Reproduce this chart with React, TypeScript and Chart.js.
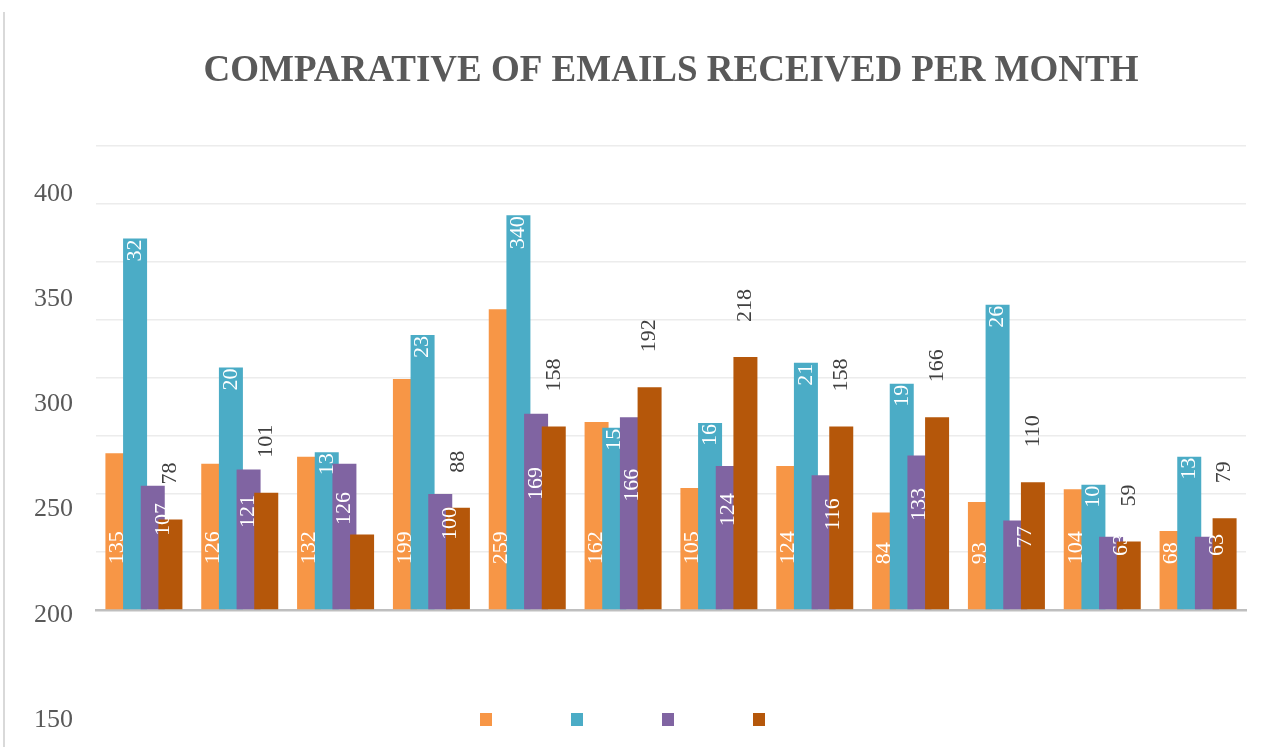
import React, { useEffect, useRef } from "react";
import { Chart, registerables } from "chart.js";

Chart.register(...registerables);

// ---------- data ----------
const months = ["Jan", "Feb", "Mar", "Apr", "May", "Jun", "Jul", "Aug", "Sep", "Oct", "Nov", "Dec"];

const orangeSeries = [135, 126, 132, 199, 259, 162, 105, 124, 84, 93, 104, 68];
const tealSeries = [320, 209, 136, 237, 340, 157, 161, 213, 195, 263, 108, 132];
const purpleSeries = [107, 121, 126, 100, 169, 166, 124, 116, 133, 77, 63, 63];
const darkOrangeSeries = [78, 101, 65, 88, 158, 192, 218, 158, 166, 110, 59, 79];

// data-label texts as they appear in the picture
const orangeLabels = orangeSeries.map(String);
const tealLabels = ["32", "20", "13", "23", "340", "15", "16", "21", "19", "26", "10", "13"];
const purpleLabels = purpleSeries.map(String);
const darkOrangeLabels = ["78", "101", "", "88", "158", "192", "218", "158", "166", "110", "59", "79"];

// y tick labels shown on the left
const yTickLabels = [150, 200, 250, 300, 350, 400];

const titleText = "COMPARATIVE OF EMAILS RECEIVED PER MONTH";

// ---------- styles ----------
const COLORS = ["#F79646", "#4BACC6", "#8064A2", "#B5570A"];
const SERIF = '"Liberation Serif", "DejaVu Serif", serif';

const labelStyles: any[] = [
  { texts: orangeLabels, color: "#ffffff", mode: "base" },
  { texts: tealLabels, color: "#ffffff", mode: "end" },
  { texts: purpleLabels, color: "#ffffff", mode: "middle" },
  { texts: darkOrangeLabels, color: "#404040", mode: "above" },
];

const orderedBarsPlugin = {
  id: "orderedBars",
  beforeDatasetsDraw(chart: any) {
    const ctx = chart.ctx;
    const metas = chart
      .getSortedVisibleDatasetMetas()
      .slice()
      .sort((a: any, b: any) => a.index - b.index);
    // draw bars so that the right-most series sits on top
    metas.forEach((m: any) => m.controller.draw());

    ctx.save();
    ctx.font = `22px ${SERIF}`;
    ctx.textBaseline = "middle";
    metas.forEach((m: any) => {
      const st = labelStyles[m.index];
      const values = chart.data.datasets[m.index].data;
      m.data.forEach((bar: any, i: number) => {
        const text = st.texts[i];
        if (!text) return;
        const { x, y, base } = bar.getProps(["x", "y", "base"], true);
        let ax = x;
        let ay = 0;
        let align = "left";
        if (st.mode === "base") {
          ay = base - 45;
          align = "left";
        } else if (st.mode === "end") {
          ay = y + 1;
          align = "right";
        } else if (st.mode === "middle") {
          ay = (y + base) / 2 - 28;
          align = "center";
          if (values[i] < 120) ax += 10;
        } else {
          ay = y - 35;
          align = "left";
        }
        ctx.save();
        ctx.translate(ax, ay);
        ctx.rotate(-Math.PI / 2);
        ctx.textAlign = align;
        ctx.fillStyle = st.color;
        ctx.fillText(text, 0, 0);
        ctx.restore();
      });
    });
    ctx.restore();
    return false;
  },
};

export default function App() {
  const canvasRef = useRef<HTMLCanvasElement | null>(null);

  useEffect(() => {
    if (!canvasRef.current) return;
    const seriesList = [orangeSeries, tealSeries, purpleSeries, darkOrangeSeries];
    const chart = new Chart(canvasRef.current, {
      type: "bar",
      data: {
        labels: months,
        datasets: seriesList.map((s, i) => ({
          label: "",
          data: s,
          backgroundColor: COLORS[i],
          borderWidth: 0,
          categoryPercentage: 0.7375,
          barPercentage: 1.358,
        })),
      },
      options: {
        responsive: false,
        animation: false,
        layout: { padding: { left: 5, right: 42, top: 0, bottom: 11 } },
        plugins: {
          title: {
            display: true,
            text: titleText,
            color: "#595959",
            fullSize: false,
            font: { family: SERIF, size: 37, weight: "bold", lineHeight: 1.2 },
            padding: { top: 49, bottom: 52.3 },
          },
          legend: {
            display: true,
            position: "bottom",
            labels: {
              boxWidth: 12,
              boxHeight: 13,
              padding: 73,
              font: { size: 12 },
            },
          },
          tooltip: { enabled: false },
        },
        scales: {
          x: {
            type: "category",
            grid: { display: false, drawTicks: false },
            ticks: { display: false },
            border: { display: true, color: "#bfbfbf", width: 2.5 },
            afterFit: (s: any) => {
              s.height = 30;
            },
          },
          y: {
            min: 0,
            max: 400,
            ticks: { display: false, stepSize: 50 },
            grid: { color: "#ececec", lineWidth: 1.5, drawTicks: false },
            border: { display: false },
          },
          y2: {
            position: "left",
            min: 202.3,
            max: 422.96,
            grid: { display: false, drawTicks: false },
            border: { display: false },
            ticks: {
              autoSkip: false,
              padding: 23,
              color: "#595959",
              font: { family: SERIF, size: 26 },
            },
            afterBuildTicks: (s: any) => {
              s.ticks = yTickLabels.map((v) => ({ value: v }));
            },
            afterFit: (s: any) => {
              s.width = 91;
            },
          },
        },
      } as any,
      plugins: [orderedBarsPlugin as any],
    });
    return () => chart.destroy();
  }, []);

  return (
    <div
      style={{
        position: "fixed",
        left: 0,
        top: 0,
        width: 1288,
        height: 747,
        background: "#ffffff",
        overflow: "hidden",
      }}
    >
      <div
        style={{
          position: "absolute",
          left: 3,
          top: 12,
          width: 2,
          height: 735,
          background: "#d9d9d9",
        }}
      />
      <canvas
        ref={canvasRef}
        width={1288}
        height={747}
        style={{ position: "absolute", left: 0, top: 0, display: "block" }}
      />
    </div>
  );
}
